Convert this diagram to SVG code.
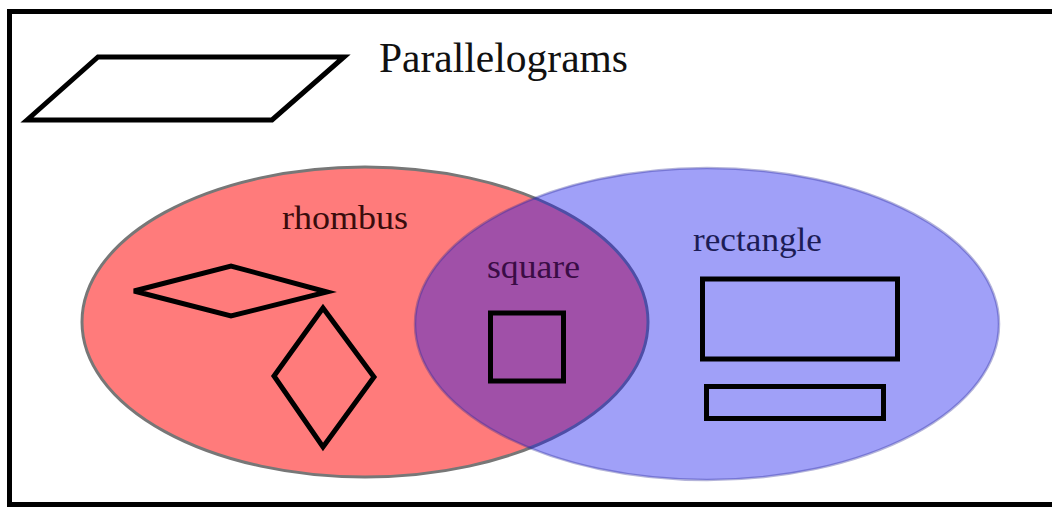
<svg xmlns="http://www.w3.org/2000/svg" width="1052" height="508" viewBox="0 0 1052 508">
<style>
.lbl{font-family:"Liberation Serif","Times New Roman",serif;}
.shape{fill:none;stroke:#000;stroke-width:5;stroke-linejoin:miter;}
</style>
<rect x="0" y="0" width="1052" height="508" fill="#fff"/>
<g id="frame">
<rect x="9.5" y="11.5" width="1060" height="493" fill="none" stroke="#000" stroke-width="5"/>
</g>
<g id="parallelogram">
<polygon class="shape" points="27,120 98,57 344,57 272,120"/>
<text class="lbl" x="379" y="72" font-size="42" textLength="249" lengthAdjust="spacingAndGlyphs" fill="#111">Parallelograms</text>
</g>
<g id="rhombus-set">
<ellipse cx="365" cy="322" rx="283" ry="155" fill="#ff7b7b" stroke="#777" stroke-width="3"/>
</g>
<g id="rectangle-set">
<ellipse cx="707" cy="324" rx="292" ry="156" fill="rgb(17,17,237)" fill-opacity="0.4" stroke="rgb(40,40,150)" stroke-opacity="0.35" stroke-width="2.5"/>
</g>
<g id="rhombus">
<text class="lbl" x="282" y="229" font-size="34" textLength="126" lengthAdjust="spacingAndGlyphs" fill="#3a0c0c">rhombus</text>
<polygon class="shape" points="134,291 231,266 327,292 231,316"/>
<polygon class="shape" points="323,308 274,376 323,447 374,377"/>
</g>
<g id="square">
<text class="lbl" x="487" y="278" font-size="34" textLength="93" lengthAdjust="spacingAndGlyphs" fill="#3a0c45">square</text>
<rect class="shape" x="490.5" y="313" width="73" height="68" stroke="#14041c"/>
</g>
<g id="rectangle">
<text class="lbl" x="693" y="251" font-size="34" textLength="129" lengthAdjust="spacingAndGlyphs" fill="#1c1c55">rectangle</text>
<rect class="shape" x="702.5" y="279" width="195" height="80" stroke="#08081e"/>
<rect class="shape" x="706.5" y="386.5" width="177" height="32" stroke="#08081e"/>
</g>
<g id="connectors"></g>
</svg>
